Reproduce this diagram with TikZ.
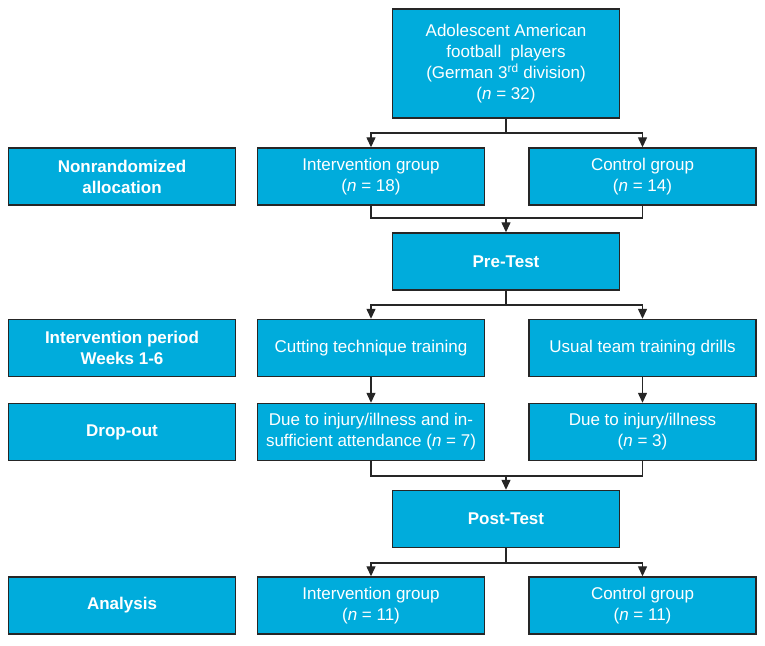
\documentclass[tikz,border=0pt]{standalone}
\usepackage{fontspec}
\setmainfont{Liberation Sans}
\usetikzlibrary{arrows.meta}
\definecolor{boxblue}{RGB}{0,172,220}
\tikzset{
  box/.style={draw=black!85, line width=1.4pt, fill=boxblue, text=white, align=center,
    minimum width=227pt, minimum height=57pt, inner sep=2pt,
    font=\fontsize{17}{21}\selectfont},
  lab/.style={box, font=\fontsize{17}{21}\selectfont\bfseries},
  conn/.style={draw=black!85, line width=1.3pt},
  arr/.style={conn, -{Triangle[length=10pt,width=9pt]}}
}
\begin{document}
\begin{tikzpicture}[x=1pt,y=-1pt]
\useasboundingbox (0,0) rectangle (765,645);
% boxes
\node[box, minimum height=109pt] (top) at (506,63.5) {Adolescent American\\football\ \ players\\(German 3\textsuperscript{rd} division)\\({\itshape n} = 32)};
\node[lab] (l1) at (122,176.5) {Nonrandomized\\allocation};
\node[box] (ia) at (371,176.5) {Intervention group\\({\itshape n} = 18)};
\node[box] (ca) at (642.5,176.5) {Control group\\({\itshape n} = 14)};
\node[lab] (pre) at (506,261.5) {Pre-Test};
\node[lab] (l2) at (122,348) {Intervention period\\Weeks 1-6};
\node[box] (ib) at (371,348) {Cutting technique training};
\node[box] (cb) at (642.5,348) {Usual team training drills};
\node[lab] (l3) at (122,432) {Drop-out};
\node[box] (ic) at (371,432) {Due to injury/illness and in-\\sufficient attendance ({\itshape n} = 7)};
\node[box] (cc) at (642.5,432) {Due to injury/illness\\({\itshape n} = 3)};
\node[lab] (post) at (506,519) {Post-Test};
\node[lab] (l4) at (122,605.5) {Analysis};
\node[box] (id) at (371,605.5) {Intervention group\\({\itshape n} = 11)};
\node[box] (cd) at (642.5,605.5) {Control group\\({\itshape n} = 11)};
% junctions
\coordinate (j1) at (506,133);
\coordinate (j2) at (506,218);
\coordinate (j3) at (506,305);
\coordinate (j4) at (506,476);
\coordinate (j5) at (506,563);
% connectors
\draw[conn] (top.south) -- (j1);
\draw[arr] (j1) -| (ia.north);
\draw[arr] (j1) -| (ca.north);
\draw[conn] (ia.south) |- (j2) -| (ca.south);
\draw[arr] (j2) -- (pre.north);
\draw[conn] (pre.south) -- (j3);
\draw[arr] (j3) -| (ib.north);
\draw[arr] (j3) -| (cb.north);
\draw[arr] (ib.south) -- (ic.north);
\draw[arr] (cb.south) -- (cc.north);
\draw[conn] (ic.south) |- (j4) -| (cc.south);
\draw[arr] (j4) -- (post.north);
\draw[conn] (post.south) -- (j5);
\draw[arr] (j5) -| (id.north);
\draw[arr] (j5) -| (cd.north);
\end{tikzpicture}
\end{document}
